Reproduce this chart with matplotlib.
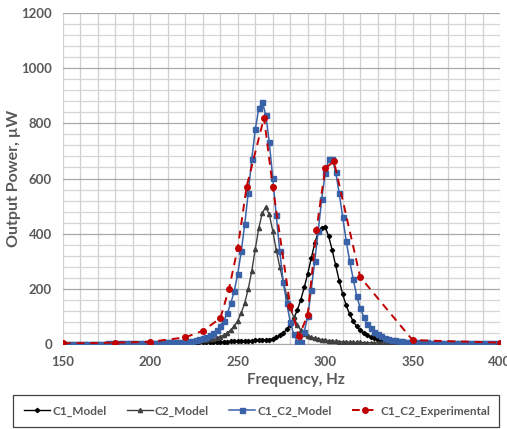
import matplotlib
matplotlib.use('Agg')
import matplotlib.pyplot as plt
from matplotlib.patches import Rectangle
from matplotlib.ticker import MultipleLocator
import numpy as np

# model curves sampled every 2 Hz from 150 to 400 Hz
freq_model = np.arange(150, 401, 2)

c1_model = [0.4, 0.4, 0.4, 0.5, 0.5, 0.5, 0.5, 0.6, 0.6, 0.6,        # 150-168
            0.7, 0.7, 0.8, 0.8, 0.9, 0.9, 1.0, 1.1, 1.1, 1.2,        # 170-188
            1.3, 1.4, 1.5, 1.6, 1.7, 1.9, 2.0, 2.2, 2.4, 2.6,        # 190-208
            2.8, 3.0, 3.3, 3.6, 3.9, 4.3, 4.7, 5.0, 5.4, 5.8,        # 210-228
            6.2, 6.6, 7.0, 7.4, 7.8, 8.2, 8.6, 9.0, 9.5, 10,         # 230-248
            10.5, 11, 11.5, 12, 12.5, 13, 13.5, 14, 14.5, 15,        # 250-268
            19, 24, 31, 40, 53, 70, 93, 122, 160, 205,               # 270-288
            255, 310, 365, 405, 422, 425, 390, 340, 285, 230,        # 290-308
            180, 140, 108, 82, 64, 50, 40, 31, 25, 20,               # 310-328
            16, 13, 11, 9, 8, 7, 6, 5.5, 5, 4.5,                     # 330-348
            4, 3.8, 3.6, 3.4, 3.2, 3.0, 2.8, 2.7, 2.6, 2.5,          # 350-368
            2.4, 2.3, 2.2, 2.1, 2.0, 1.9, 1.8, 1.7, 1.7, 1.6,        # 370-388
            1.6, 1.5, 1.5, 1.4, 1.4, 1.3]                            # 390-400

c2_model = [0.8, 0.8, 0.9, 0.9, 1.0, 1.0, 1.1, 1.1, 1.2, 1.2,        # 150-168
            1.3, 1.4, 1.4, 1.5, 1.6, 1.7, 1.8, 1.9, 2.0, 2.1,        # 170-188
            2.3, 2.4, 2.6, 2.8, 3.0, 3.2, 3.4, 3.7, 4.0, 4.4,        # 190-208
            4.8, 5.3, 5.8, 6.4, 7.0, 7.8, 8.6, 9.5, 10.5, 12,        # 210-228
            13.5, 15, 17, 19.5, 23, 27, 32, 40, 51, 65,              # 230-248
            85, 113, 150, 200, 265, 345, 420, 475, 497, 470,         # 250-268
            410, 340, 280, 225, 175, 130, 97, 70, 50, 38,            # 270-288
            30, 25, 21, 18, 16, 14, 12.5, 11, 10, 9,                 # 290-308
            8.2, 7.5, 7.0, 6.5, 6.0, 5.6, 5.2, 4.9, 4.6, 4.3,        # 310-328
            4.0, 3.8, 3.6, 3.4, 3.2, 3.0, 2.9, 2.8, 2.7, 2.6,        # 330-348
            2.5, 2.4, 2.3, 2.2, 2.1, 2.0, 1.9, 1.9, 1.8, 1.8,        # 350-368
            1.7, 1.7, 1.6, 1.6, 1.5, 1.5, 1.4, 1.4, 1.4, 1.3,        # 370-388
            1.3, 1.3, 1.2, 1.2, 1.2, 1.1]                            # 390-400

c1_c2_model = [1.0, 1.0, 1.1, 1.1, 1.2, 1.2, 1.3, 1.4, 1.4, 1.5,     # 150-168
               1.6, 1.7, 1.8, 1.9, 2.0, 2.1, 2.2, 2.4, 2.5, 2.7,     # 170-188
               2.9, 3.1, 3.3, 3.5, 3.8, 4.1, 4.4, 4.7, 5.1, 5.5,     # 190-208
               6.0, 6.5, 7.0, 7.6, 8.2, 9.0, 10, 12, 14, 17,         # 210-228
               21, 26, 32, 40, 50, 65, 85, 112, 147, 193,            # 230-248
               255, 337, 436, 549, 671, 778, 855, 876, 832, 731,     # 250-268
               602, 466, 337, 225, 148, 80, 35, 9, 9, 45,            # 270-288
               100, 195, 300, 410, 525, 619, 670, 670, 623, 547,     # 290-308
               460, 375, 300, 237, 175, 130, 99, 74, 57, 44,         # 310-328
               35, 28, 23, 19, 16, 14, 12, 10, 9, 8,                 # 330-348
               7.5, 7.0, 6.5, 6.0, 5.6, 5.2, 4.9, 4.6, 4.3, 4.0,     # 350-368
               3.8, 3.6, 3.4, 3.3, 3.2, 3.1, 3.0, 2.9, 2.8, 2.7,     # 370-388
               2.7, 2.6, 2.6, 2.5, 2.5, 2.4]                         # 390-400

# measured points
freq_exp = [150, 180, 200, 220, 230, 240, 245, 250, 255, 265,
            270, 280, 285, 290, 295, 300, 305, 320, 350, 400]
c1_c2_exp = [2, 5, 8, 24, 48, 93, 201, 349, 569, 821,
             569, 137, 29, 105, 414, 637, 662, 243, 14, 5]

txt = '#595959'
plt.rcParams['font.family'] = ['Lato', 'DejaVu Sans']

fig = plt.figure(figsize=(5.07, 4.29), dpi=100)
ax = fig.add_axes([63/507, 1-344/429, 437/507, 331/429])

ax.plot(freq_model, c1_model, color='black', lw=1.0, marker='D', ms=2.2, label='C1_Model', zorder=3)
ax.plot(freq_model, c2_model, color='#404040', lw=1.0, marker='^', ms=3.0, label='C2_Model', zorder=3)
ax.plot(freq_model, c1_c2_model, color='#3A62A8', lw=1.1, marker='s', ms=3.6, label='C1_C2_Model', zorder=4)
ax.plot(freq_exp, c1_c2_exp, color='#C00000', lw=1.4, ls=(0, (4, 3)), marker='o', ms=4.0,
        label='C1_C2_Experimental', zorder=5)

ax.set_xlim(150, 400)
ax.set_ylim(0, 1200)
ax.xaxis.set_major_locator(MultipleLocator(50))
ax.xaxis.set_minor_locator(MultipleLocator(10))
ax.yaxis.set_major_locator(MultipleLocator(200))
ax.yaxis.set_minor_locator(MultipleLocator(40))
ax.xaxis.grid(True, which='both', color='#D0D0D0', lw=0.9)
ax.yaxis.grid(True, which='major', color='#A8A8A8', lw=0.9)
ax.yaxis.grid(True, which='minor', color='#D6D6D6', lw=0.9)
ax.set_axisbelow(True)
for s in ['top', 'left', 'right']:
    ax.spines[s].set_visible(False)
ax.spines['bottom'].set_color('#A8A8A8')
ax.tick_params(which='both', length=0, colors=txt, labelsize=9.5)
ax.tick_params(axis='x', pad=9)
ax.tick_params(axis='y', pad=8)
for lab in ax.get_xticklabels() + ax.get_yticklabels():
    lab.set_fontweight('bold')

ax.set_xlabel('Frequency, Hz', fontsize=11, fontweight='bold', color=txt)
ax.set_ylabel('Output Power, µW', fontsize=11.5, fontweight='bold', color=txt)
ax.xaxis.set_label_coords((296-63)/437, -0.088)
ax.yaxis.set_label_coords(-0.095, 0.5)

# legend box under the chart
fig.patches.append(Rectangle((13/507, 1-427/429), 486/507, 32/429, transform=fig.transFigure,
                             fill=False, edgecolor='#404040', lw=0.9))
leg = fig.legend(loc='center', ncol=4, bbox_to_anchor=(257/507, 1-411/429),
                 fontsize=8.5, frameon=False, handlelength=2.2,
                 columnspacing=1.7, handletextpad=0.2)
for t in leg.get_texts():
    t.set_color(txt)
    t.set_fontweight('bold')

fig.savefig('out.png', dpi=100)
